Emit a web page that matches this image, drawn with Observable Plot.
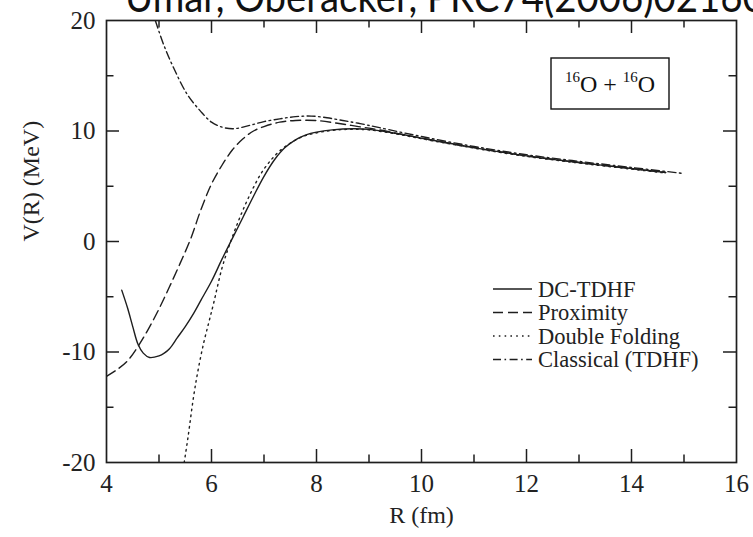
<!DOCTYPE html>
<html><head><meta charset="utf-8">
<script src="https://cdn.jsdelivr.net/npm/d3@7"></script>
<script src="https://cdn.jsdelivr.net/npm/@observablehq/plot@0.6"></script>
<style>
html,body{margin:0;padding:0;background:#fff;overflow:hidden;width:753px;height:537px}
#wrap{position:relative;width:753px;height:537px}
#title{position:absolute;left:0;top:0;pointer-events:none}
</style></head><body><div id="wrap"></div>
<script>
// ---- data ----
const seriesNames = ["DC-TDHF", "Proximity", "Double Folding", "Classical (TDHF)"];
const dcR = [4.29,4.4,4.5,4.6,4.7,4.82,5.0,5.1,5.2,5.35,5.5,5.66,5.8,6.0,6.2,6.4,6.6,6.8,7.0,7.2,7.4,7.6,7.8,8.0,8.3,8.7,9.0,9.5,10,11,12,13,14,14.65];
const dcV = [-4.4,-6.0,-7.7,-9.3,-10.1,-10.5,-10.35,-10.1,-9.7,-8.7,-7.7,-6.5,-5.3,-3.6,-1.6,0.3,2.2,4.1,5.9,7.4,8.5,9.2,9.65,9.9,10.1,10.2,10.15,9.8,9.35,8.5,7.75,7.15,6.6,6.25];
const proxR = [4.0,4.2,4.4,4.6,4.8,5.0,5.2,5.4,5.6,5.8,6.0,6.2,6.4,6.6,6.8,7.0,7.3,7.6,8.0,8.4,8.8,9.2,10,11,12,13,14,14.65];
const proxV = [-12.2,-11.6,-10.8,-9.5,-7.9,-6.1,-4.1,-2.0,0.2,2.9,5.2,6.9,8.3,9.3,10.0,10.4,10.8,10.95,10.95,10.7,10.4,10.1,9.35,8.5,7.75,7.15,6.6,6.25];
const dfR = [5.48,5.55,5.66,5.75,5.85,5.95,6.04,6.2,6.35,6.5,6.65,6.8,6.95,7.12,7.3,7.57,7.8,8.08,8.4,8.7,9.0,9.5,10,11,12,13,14,14.65];
const dfV = [-20,-17.8,-14.0,-11.5,-9.2,-7.3,-5.6,-2.4,-0.2,1.7,3.4,4.9,6.2,7.3,8.2,9.1,9.6,9.9,10.1,10.15,10.1,9.75,9.3,8.45,7.7,7.1,6.55,6.2];
const clR = [4.93,5.09,5.28,5.54,5.79,6.0,6.2,6.4,6.6,6.8,7.0,7.3,7.6,7.9,8.2,8.5,8.8,9.2,10,11,12,13,14,15.0];
const clV = [20,17.8,15.7,13.3,11.8,10.8,10.35,10.2,10.35,10.6,10.85,11.1,11.3,11.35,11.2,10.95,10.7,10.3,9.5,8.6,7.85,7.25,6.7,6.15];
const xTickLabels = [4,6,8,10,12,14,16];
const xMajor = [6,8,10,12,14];
const xMinor = [5,7,9,11,13,15];
const yTickLabels = [-20,-10,0,10,20];
const yMajor = [-10,0,10];
const yMinor = [-15,-5,5,15];
const titleText = "Umar, Oberacker, PRC74(2006)021601";
const insetParts = ["16", "O + ", "16", "O"];

// ---- layout ----
const W = 753, H = 537;
const mL = 106, mR = 17, mT = 20, mB = 75;
const plotW = W - mL - mR, plotH = H - mT - mB;
const ink = "#1e1e1e";
const styles = [
  {strokeDasharray: null},
  {strokeDasharray: "10,5"},
  {strokeDasharray: "1.6,4.2"},
  {strokeDasharray: "8,3.5,1.6,3.5"}
];
const series = [[dcR,dcV],[proxR,proxV],[dfR,dfV],[clR,clV]].map(([r,v],i) =>
  r.map((x,j) => ({R: x, V: v[j], name: seriesNames[i]})));

const lineMarks = series.map((data,i) => Plot.line(data, {
  x: "R", y: "V", curve: "catmull-rom", stroke: ink, strokeWidth: 1.4,
  strokeDasharray: styles[i].strokeDasharray, clip: true
}));

function legendMark() {
  const g = d3.create("svg:g");
  const x0 = 493, x1 = 532, tx = 538, y0 = 289, dy = 23.5;
  seriesNames.forEach((name, i) => {
    const y = y0 + i*dy;
    const l = g.append("line").attr("x1", x0).attr("x2", x1).attr("y1", y).attr("y2", y)
      .attr("stroke", ink).attr("stroke-width", 1.5);
    if (styles[i].strokeDasharray) l.attr("stroke-dasharray", styles[i].strokeDasharray);
    g.append("text").attr("x", tx).attr("y", y).attr("dy", "0.35em")
      .attr("text-anchor", "start")
      .attr("font-size", 22.5).attr("fill", "#222").text(name);
  });
  return g.node();
}

function insetMark() {
  const g = d3.create("svg:g");
  const bx = 551, by = 58, bw = 118, bh = 51;
  g.append("rect").attr("x", bx).attr("y", by).attr("width", bw).attr("height", bh)
    .attr("fill", "white").attr("stroke", "#111").attr("stroke-width", 1.4);
  const t = g.append("text").attr("x", bx + bw/2).attr("y", by + 34)
    .attr("text-anchor", "middle").attr("fill", "#111").attr("font-size", 24);
  t.append("tspan").attr("font-size", 15).attr("dy", -10).text(insetParts[0]);
  t.append("tspan").attr("dy", 10).text(insetParts[1]);
  t.append("tspan").attr("font-size", 15).attr("dy", -10).text(insetParts[2]);
  t.append("tspan").attr("dy", 10).text(insetParts[3]);
  return g.node();
}

const chart = Plot.plot({
  width: W, height: H,
  marginLeft: mL, marginRight: mR, marginTop: mT, marginBottom: mB,
  style: {fontFamily: "'Liberation Serif', 'Times New Roman', serif", fontSize: "25px", color: "#222", background: "white"},
  x: {domain: [4,16]},
  y: {domain: [-20,20]},
  marks: [
    ...lineMarks,
    Plot.tickX(xMajor, {x: d => d, insetTop: plotH - 13, stroke: ink, strokeWidth: 1.5}),
    Plot.tickX(xMinor, {x: d => d, insetTop: plotH - 7.5, stroke: ink, strokeWidth: 1.5}),
    Plot.tickX(xMajor, {x: d => d, insetBottom: plotH - 13, stroke: ink, strokeWidth: 1.5}),
    Plot.tickX(xMinor, {x: d => d, insetBottom: plotH - 7.5, stroke: ink, strokeWidth: 1.5}),
    Plot.tickY(yMajor, {y: d => d, insetRight: plotW - 13, stroke: ink, strokeWidth: 1.5}),
    Plot.tickY(yMinor, {y: d => d, insetRight: plotW - 7.5, stroke: ink, strokeWidth: 1.5}),
    Plot.tickY(yMajor, {y: d => d, insetLeft: plotW - 13, stroke: ink, strokeWidth: 1.5}),
    Plot.tickY(yMinor, {y: d => d, insetLeft: plotW - 7.5, stroke: ink, strokeWidth: 1.5}),
    Plot.frame({stroke: ink, strokeWidth: 1.7}),
    Plot.axisX({ticks: xTickLabels, tickSize: 0, tickPadding: 12, tickFormat: d => String(d), label: null}),
    Plot.axisY({ticks: yTickLabels, tickSize: 0, tickPadding: 11, tickFormat: d => String(d), label: null}),
    Plot.text(["R (fm)"], {text: d => d, frameAnchor: "bottom", dy: 60, fontSize: 24}),
    Plot.text(["V(R) (MeV)"], {text: d => d, frameAnchor: "left", dx: -75, rotate: -90, fontSize: 24}),
    legendMark,
    insetMark
  ]
});
document.getElementById("wrap").appendChild(chart);

// title overlay (partially cut off at the top, as in the reference)
const tsvg = d3.select("#wrap").append("svg").attr("id", "title").attr("width", W).attr("height", 40);
tsvg.append("text").attr("x", 125).attr("y", 12)
  .attr("font-family", "Lato, 'Open Sans', sans-serif").attr("font-size", 42).attr("fill", "#111")
  .attr("textLength", 662).attr("lengthAdjust", "spacingAndGlyphs").text(titleText);
</script></body></html>
